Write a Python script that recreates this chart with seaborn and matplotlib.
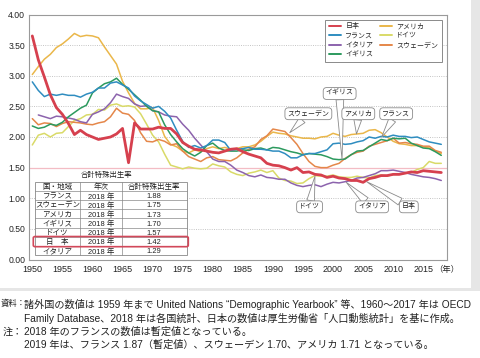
import matplotlib
matplotlib.use("Agg")
import matplotlib.pyplot as plt
import seaborn as sns
import pandas as pd
import numpy as np
from matplotlib.patches import Rectangle, FancyBboxPatch
from matplotlib.lines import Line2D

years = list(range(1950, 2019))

japan = [3.65,3.26,2.98,2.69,2.48,2.37,2.22,2.04,2.11,2.04, 2.00,1.96,1.98,2.00,2.05,2.14,1.58,2.23,2.13,2.13,
         2.13,2.16,2.14,2.14,2.05,1.91,1.85,1.80,1.79,1.77, 1.75,1.74,1.77,1.80,1.81,1.76,1.72,1.69,1.66,1.57,
         1.54,1.53,1.50,1.46,1.50,1.42,1.43,1.39,1.38,1.34, 1.36,1.33,1.32,1.29,1.29,1.26,1.32,1.34,1.37,1.37,
         1.39,1.39,1.41,1.43,1.42,1.45,1.44,1.43,1.42]
france = [2.90,2.76,2.66,2.70,2.68,2.70,2.68,2.68,2.65,2.70, 2.73,2.80,2.80,2.88,2.90,2.85,2.80,2.67,2.59,2.53,
          2.47,2.50,2.42,2.31,2.11,1.93,1.83,1.86,1.82,1.86, 1.95,1.95,1.91,1.78,1.80,1.81,1.83,1.80,1.80,1.79,
          1.77,1.77,1.73,1.66,1.66,1.71,1.73,1.73,1.76,1.79, 1.89,1.90,1.88,1.89,1.92,1.94,2.00,1.98,2.01,2.00,
          2.03,2.01,2.01,1.99,2.00,1.96,1.92,1.90,1.88]
italy = [None,2.36,2.33,2.30,2.34,2.33,2.31,2.29,2.25,2.23, 2.37,2.41,2.46,2.56,2.70,2.66,2.63,2.54,2.50,2.51,
         2.43,2.41,2.36,2.34,2.33,2.21,2.11,1.98,1.87,1.76, 1.64,1.60,1.60,1.54,1.46,1.42,1.37,1.35,1.38,1.34,
         1.33,1.31,1.31,1.25,1.21,1.19,1.21,1.22,1.19,1.23, 1.26,1.25,1.27,1.29,1.33,1.34,1.37,1.40,1.45,1.45,
         1.46,1.44,1.42,1.39,1.37,1.35,1.34,1.32,1.29]
uk = [2.18,2.14,2.16,2.21,2.19,2.24,2.33,2.40,2.47,2.52, 2.72,2.80,2.87,2.90,2.96,2.86,2.78,2.69,2.60,2.50,
      2.43,2.41,2.20,2.04,1.92,1.81,1.74,1.69,1.75,1.86, 1.90,1.82,1.78,1.77,1.77,1.79,1.78,1.81,1.82,1.79,
      1.83,1.82,1.79,1.76,1.74,1.71,1.73,1.72,1.71,1.68, 1.64,1.63,1.64,1.71,1.77,1.78,1.84,1.90,1.96,1.94,
      1.98,1.97,1.98,1.90,1.86,1.82,1.81,1.76,1.70]
usa = [3.02,3.15,3.27,3.35,3.46,3.52,3.60,3.69,3.64,3.66, 3.65,3.62,3.47,3.33,3.19,2.91,2.72,2.55,2.46,2.46,
       2.48,2.27,2.01,1.88,1.84,1.77,1.74,1.79,1.76,1.81, 1.84,1.81,1.83,1.80,1.81,1.84,1.84,1.87,1.93,2.01,
       2.08,2.06,2.05,2.02,2.00,1.98,1.98,1.97,2.00,2.01, 2.06,2.03,2.01,2.04,2.05,2.06,2.11,2.12,2.07,2.00,
       1.93,1.89,1.88,1.86,1.86,1.84,1.82,1.77,1.73]
germany = [1.87,2.03,2.06,2.00,2.06,2.07,2.17,2.27,2.30,2.36, 2.37,2.45,2.44,2.52,2.54,2.50,2.51,2.49,2.38,2.21,
           2.03,1.92,1.72,1.54,1.51,1.48,1.51,1.49,1.48,1.49, 1.56,1.53,1.51,1.43,1.39,1.37,1.41,1.43,1.46,1.42,
           1.45,1.33,1.29,1.28,1.24,1.25,1.32,1.37,1.36,1.36, 1.38,1.35,1.34,1.34,1.36,1.34,1.33,1.37,1.38,1.36,
           1.39,1.39,1.41,1.42,1.47,1.50,1.60,1.57,1.57]
sweden = [2.30,2.20,2.23,2.22,2.17,2.22,2.25,2.24,2.23,2.21, 2.20,2.23,2.25,2.33,2.47,2.39,2.37,2.27,2.07,1.93,
          1.92,1.96,1.93,1.87,1.89,1.77,1.68,1.64,1.60,1.66, 1.68,1.63,1.62,1.61,1.66,1.74,1.80,1.84,1.96,2.02,
          2.13,2.11,2.09,1.99,1.88,1.73,1.60,1.52,1.50,1.50, 1.54,1.57,1.65,1.71,1.75,1.77,1.85,1.88,1.91,1.94,
          1.98,1.90,1.91,1.89,1.88,1.85,1.85,1.78,1.75]

countries = ["日本", "フランス", "イタリア", "イギリス", "アメリカ", "ドイツ", "スウェーデン"]
series = [japan, france, italy, uk, usa, germany, sweden]
colors = {"日本": "#d6404e", "フランス": "#2f8dc0", "イタリア": "#8c63ad", "イギリス": "#2c9a5e",
          "アメリカ": "#eab74a", "ドイツ": "#d9da68", "スウェーデン": "#e5874a"}

table_countries = ["フランス", "スウェーデン", "アメリカ", "イギリス", "ドイツ", "日　本", "イタリア"]
table_years = ["2018 年"] * 7
table_values = ["1.88", "1.75", "1.73", "1.70", "1.57", "1.42", "1.29"]
table_header = ["国・地域", "年次", "合計特殊出生率"]

callouts = [("スウェーデン", 1995.9, 2.38, 1992.8, 2.07),
            ("イギリス", 2001.1, 2.71, 2001.5, 1.63),
            ("アメリカ", 2004.2, 2.38, 2003.9, 2.05),
            ("フランス", 2010.5, 2.38, 2008.1, 2.00),
            ("ドイツ", 1996.1, 0.86, 1997.0, 1.36),
            ("イタリア", 2006.5, 0.86, 2002.2, 1.26),
            ("日本", 2012.6, 0.86, 2005.6, 1.27)]

notes = [("資料：", "諸外国の数値は 1959 年まで United Nations “Demographic Yearbook” 等、1960～2017 年は OECD"),
         ("", "Family Database、2018 年は各国統計、日本の数値は厚生労働省「人口動態統計」を基に作成。"),
         ("注：", "2018 年のフランスの数値は暫定値となっている。"),
         ("", "2019 年は、フランス 1.87（暫定値）、スウェーデン 1.70、アメリカ 1.71 となっている。")]

sns.set_theme(style="white")
FAM = ["Liberation Sans", "Noto Sans CJK JP"]
plt.rcParams["font.family"] = FAM

rows = []
for name, vals in zip(countries, series):
    for y, v in zip(years, vals):
        rows.append({"year": y, "tfr": v, "country": name})
df = pd.DataFrame(rows).dropna()

W, H = 480, 358
fig = plt.figure(figsize=(W / 100, H / 100), dpi=100)
fig.patch.set_facecolor("white")

def fx(x):
    return x / W

def fy(y):
    return 1 - y / H

# card background with shadow
fig.add_artist(Rectangle((0, fy(291)), 1, 291 / H, transform=fig.transFigure, fc="#e6e6e6", ec="none", zorder=-20))
fig.add_artist(Rectangle((0, fy(288)), 471 / W, 288 / H, transform=fig.transFigure, fc="white", ec="none", zorder=-19))

L, R, T, B = 29.3, 447.3, 14.5, 259.5
ax = fig.add_axes([fx(L), fy(B), (R - L) / W, (B - T) / H])
ax.set_facecolor("none")

for yv in [0.5, 1.0, 2.0, 2.5, 3.0, 3.5]:
    ax.axhline(yv, color="#bdbdbd", lw=0.6, ls=(0, (1.2, 1.5)), zorder=0)
ax.axhline(1.5, color="#f3bcc4", lw=0.9, zorder=0)

order = ["ドイツ", "アメリカ", "スウェーデン", "イタリア", "イギリス", "フランス", "日本"]
for name in order:
    sub = df[df["country"] == name]
    sns.lineplot(data=sub, x="year", y="tfr", ax=ax, color=colors[name],
                 lw=2.0 if name == "日本" else 1.1, legend=False, zorder=3 if name == "日本" else 2)

ax.set_xlim(1949.5, 2019)
ax.set_ylim(0, 4)
ax.set_xticks(list(range(1950, 2016, 5)))
ax.set_yticks([0, 0.5, 1.0, 1.5, 2.0, 2.5, 3.0, 3.5, 4.0])
ax.set_yticklabels([f"{v:.2f}" for v in [0, 0.5, 1.0, 1.5, 2.0, 2.5, 3.0, 3.5, 4.0]])
ax.set_xlabel("")
ax.set_ylabel("")
ax.tick_params(axis="x", direction="in", length=3, color="#999999", labelsize=6.5, pad=4, labelcolor="#222222")
ax.tick_params(axis="y", length=0, labelsize=6.2, pad=3, labelcolor="#222222")
for s in ax.spines.values():
    s.set_color("#9a9a9a")
    s.set_linewidth(0.8)

fig.text(fx(447), fy(270), "（年）", fontsize=6, ha="center", va="center", color="#222222")

# legend
handles = [Line2D([], [], color=colors[c], lw=1.4) for c in countries]
leg = ax.legend(handles, countries, ncol=2, loc="upper right", bbox_to_anchor=(0.987, 0.978),
                borderaxespad=0, fontsize=5, frameon=True, fancybox=False, framealpha=1,
                handlelength=1.8, handletextpad=0.6, labelspacing=0.35, columnspacing=0.9,
                borderpad=0.5)
leg.get_frame().set_edgecolor("#8a8a8a")
leg.get_frame().set_linewidth(0.7)

# callouts
for text, tx, ty, px_, py_ in callouts:
    ax.annotate(text, xy=(px_, py_), xytext=(tx, ty), ha="center", va="center", fontsize=5,
                color="#222222", zorder=6,
                bbox=dict(boxstyle="round,pad=0.35,rounding_size=0.5", fc="white", ec="#8a8a8a", lw=0.6),
                arrowprops=dict(arrowstyle="wedge,tail_width=1.1,shrink_factor=0.5", fc="white",
                                ec="#8a8a8a", lw=0.6, shrinkA=0, shrinkB=0))

# table
cx = [35, 80, 121.7, 186.7]
top, rh = 181.7, 9.17
nrows = 8
fig.add_artist(Rectangle((fx(cx[0]), fy(top + nrows * rh)), (cx[-1] - cx[0]) / W, nrows * rh / H,
                         transform=fig.transFigure, fc="white", ec="#888888", lw=0.6, zorder=5))
for i in range(1, nrows):
    yy = top + i * rh
    fig.add_artist(Line2D([fx(cx[0]), fx(cx[-1])], [fy(yy), fy(yy)], transform=fig.transFigure,
                          color="#888888", lw=0.5, zorder=6))
for xx in cx[1:-1]:
    fig.add_artist(Line2D([fx(xx), fx(xx)], [fy(top), fy(top + nrows * rh)], transform=fig.transFigure,
                          color="#888888", lw=0.5, zorder=6))
fig.text(fx(106.7), fy(174), "合計特殊出生率", fontsize=5.3, ha="center", va="center_baseline", color="#222222")
cells = [table_header] + [[a, b, c] for a, b, c in zip(table_countries, table_years, table_values)]
for r, row in enumerate(cells):
    yc = top + (r + 0.5) * rh + 0.3
    for c, val in enumerate(row):
        xc = (cx[c] + cx[c + 1]) / 2
        fig.text(fx(xc), fy(yc), val, fontsize=5.4, ha="center", va="center_baseline",
                 color="#222222", zorder=7)
jr = 6
fig.add_artist(FancyBboxPatch((fx(33.3), fy(top + (jr + 1) * rh + 0.8)), (188.3 - 33.3) / W, (rh + 1.0) / H,
                              boxstyle="round,pad=0,rounding_size=0.004", transform=fig.transFigure,
                              fc="none", ec="#d2485a", lw=1.2, zorder=8))

# notes
note_y = [304, 318, 331.5, 345]
for (head, body), yy in zip(notes, note_y):
    if head == "資料：":
        fig.text(fx(0.3), fy(yy), head, fontsize=6.0, ha="left", va="center", color="#222222")
    elif head:
        fig.text(fx(23), fy(yy), head, fontsize=7.3, ha="right", va="center", color="#222222")
    fig.text(fx(23.5), fy(yy), body, fontsize=7.3, ha="left", va="center", color="#222222")

fig.savefig("out.png", dpi=100, facecolor="white")
